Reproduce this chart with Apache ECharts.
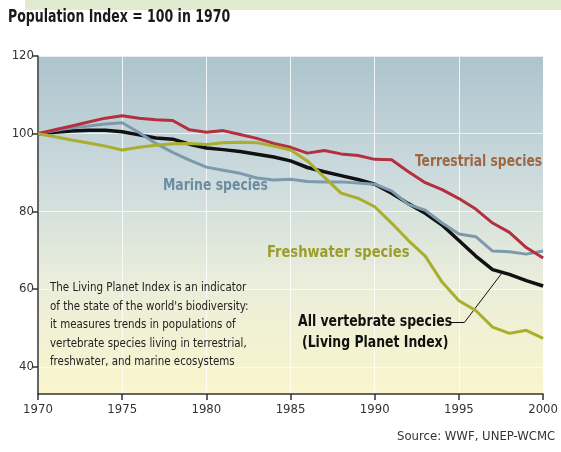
<!DOCTYPE html>
<html>
<head>
<meta charset="utf-8">
<script src="https://cdn.jsdelivr.net/npm/echarts@6/dist/echarts.min.js"></script>
<style>html,body{margin:0;padding:0;background:#fff}#c{width:561px;height:452px}</style>
</head>
<body>
<div id="c"></div>
<script>
var years = [1970,1971,1972,1973,1974,1975,1976,1977,1978,1979,1980,1981,1982,1983,1984,1985,1986,1987,1988,1989,1990,1991,1992,1993,1994,1995,1996,1997,1998,1999,2000];
var terrestrial = [100,101,102,103,104,104.6,104,103.6,103.4,101,100.4,100.8,99.8,98.8,97.5,96.5,95,95.7,94.8,94.4,93.4,93.3,90.2,87.4,85.6,83.3,80.6,77,74.6,70.7,68];
var marine = [100,100.8,101.5,102,102.5,102.8,100.3,97.5,95.2,93.2,91.4,90.6,89.8,88.6,88.1,88.3,87.7,87.6,87.6,87.3,87,85.3,81.8,80.3,77,74.2,73.5,69.8,69.6,69,69.8];
var freshwater = [100,99.2,98.4,97.6,96.8,95.8,96.5,97,97.4,97.5,97.2,97.7,97.8,97.7,96.8,95.8,93,88.8,84.7,83.4,81.2,77,72.5,68.5,61.8,57,54.5,50.2,48.6,49.4,47.3];
var allSpecies = [100,100.4,100.7,100.9,100.9,100.5,99.7,98.9,98.6,97.3,96.3,95.9,95.4,94.7,94,93,91.3,90.2,89.2,88.2,87,84.7,82,79.5,76.5,72.5,68.5,65,63.8,62.2,60.8];
var yTicks = [40,60,80,100,120];
var xTicks = [1970,1975,1980,1985,1990,1995,2000];

function pairs(vals){ return years.map(function(y,i){ return [y, vals[i]]; }); }

var NARROW = "'DejaVu Sans Condensed','Liberation Sans Narrow',sans-serif";
function label(text, x, y, size, color, sx, weight, extra){
  var st = {text:text, x:0, y:0, align:'left', verticalAlign:'middle',
            font:(weight||'bold')+' '+size+'px '+NARROW, fill:color};
  if (extra) for (var k in extra) st[k] = extra[k];
  return {type:'text', x:x, y:y, scaleX:sx||1, scaleY:1, style:st, z:10};
}
var chart = echarts.init(document.getElementById('c'), null, {renderer:'canvas'});
var option = {
  animation: false,
  grid: {
    left: 38, right: 14, top: 56, bottom: 58, show: true, borderWidth: 0,
    backgroundColor: {type:'linear', x:0, y:0, x2:0, y2:1, colorStops:[
      {offset:0, color:'#adc4cd'},
      {offset:0.35, color:'#cbdadd'},
      {offset:0.65, color:'#e9eddb'},
      {offset:1, color:'#faf5cc'}
    ]}
  },
  xAxis: {
    type: 'value', min: 1970, max: 2000, interval: 5,
    axisLine: {lineStyle: {color:'#333', width:1.5}},
    axisTick: {show:true, length:6, inside:false, lineStyle:{color:'#333', width:1.5}},
    axisLabel: {color:'#333', fontFamily: NARROW, fontSize: 13, margin: 9,
      formatter: function(v){ return xTicks.indexOf(v) >= 0 ? String(v) : ''; }},
    splitLine: {show:true, lineStyle:{color:'rgba(255,255,255,0.8)', width:1}}
  },
  yAxis: {
    type: 'value', min: 33, max: 120, splitNumber: 4,
    axisLine: {show:true, lineStyle: {color:'#333', width:1.5}},
    axisTick: {show:true, length:5, lineStyle:{color:'#333', width:1.5}, customValues: yTicks},
    axisLabel: {color:'#333', fontFamily: NARROW, fontSize: 13, margin: 4, customValues: yTicks},
    splitLine: {show:true, lineStyle:{color:'rgba(255,255,255,0.7)', width:1}}
  },
  series: [
    {name:'All vertebrate species', type:'line', data: pairs(allSpecies), showSymbol:false,
     lineStyle:{color:'#111', width:3.5}, itemStyle:{color:'#111'}, z:3,
     markLine: {silent:true, symbol:'none', label:{show:false},
       lineStyle:{color:'#111', width:1, type:'solid'},
       data: [
         [{coord:[1994.45, 51.5]}, {coord:[1995.34, 51.5]}],
         [{coord:[1995.34, 51.5]}, {coord:[1997.6, 64.4]}]
       ]}},
    {name:'Marine species', type:'line', data: pairs(marine), showSymbol:false,
     lineStyle:{color:'#7d9aad', width:3}, itemStyle:{color:'#7d9aad'}, z:4},
    {name:'Terrestrial species', type:'line', data: pairs(terrestrial), showSymbol:false,
     lineStyle:{color:'#b3303f', width:3}, itemStyle:{color:'#b3303f'}, z:5},
    {name:'Freshwater species', type:'line', data: pairs(freshwater), showSymbol:false,
     lineStyle:{color:'#a9ae2c', width:3}, itemStyle:{color:'#a9ae2c'}, z:6}
  ],
  graphic: [
    {type:'rect', left:25, top:0, shape:{width:536, height:10}, style:{fill:'#e2ebcf'}, z:0},
    label('Population Index = 100 in 1970', 8, 18, 17, '#1a1a1a', 0.82),
    label('Terrestrial species', 415, 162, 15, '#a0663f', 0.91),
    label('Marine species', 163, 186, 15, '#6d8ca3', 0.92),
    label('Freshwater species', 267, 253, 15, '#9c9c28', 0.97),
    label('All vertebrate species', 298, 322, 16, '#111', 0.865),
    label('(Living Planet Index)', 302, 343, 16, '#111', 0.865),
    label("The Living Planet Index is an indicator\nof the state of the world's biodiversity:\nit measures trends in populations of\nvertebrate species living in terrestrial,\nfreshwater, and marine ecosystems",
      50, 325, 12.5, '#222', 0.915, 'normal', {lineHeight:18.5}),
    label('Source: WWF, UNEP-WCMC', 397, 437, 13, '#333', 1, 'normal')
  ]
};
chart.setOption(option);
</script>
</body>
</html>
